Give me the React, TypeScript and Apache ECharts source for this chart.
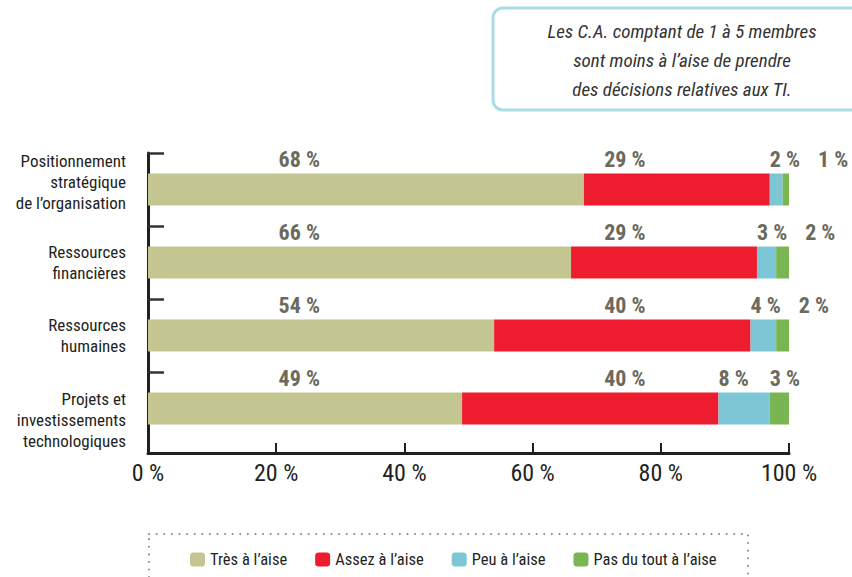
import React, { useEffect, useRef } from 'react';
import * as echarts from 'echarts';

const categories = [
  'Positionnement\nstratégique\nde l’organisation',
  'Ressources\nfinancières',
  'Ressources\nhumaines',
  'Projets et\ninvestissements\ntechnologiques',
];
const seriesNames = ['Très à l’aise', 'Assez à l’aise', 'Peu à l’aise', 'Pas du tout à l’aise'];
const tres = [68, 66, 54, 49];
const assez = [29, 29, 40, 40];
const peu = [2, 3, 4, 8];
const pasDuTout = [1, 2, 2, 3];
const xMin = 0;
const xMax = 100;
const xInterval = 20;
const calloutLines = [
  'Les C.A. comptant de 1 à 5 membres',
  'sont moins à l’aise de prendre',
  'des décisions relatives aux TI.',
];

const colors = ['#c3c690', '#ed1c2e', '#7cc6d6', '#7ab553'];
const FONT = '"Roboto Condensed", "Liberation Sans", sans-serif';
const DARK = '#231f20';
const LABEL_GREY = '#6b6a5c';

// layout
const GRID_LEFT = 148;
const GRID_RIGHT = 63;
const GRID_TOP = 153;
const BAND = 73;
const AXIS_Y = 453;
const BAR_AREA_H = BAND * categories.length;
// vertical nudge (px, positive = down) of each category label block
const CAT_LABEL_SHIFT = [-8, 0, 0, 11];

function measure(text: string, font: string): number {
  const c = document.createElement('canvas').getContext('2d');
  if (!c) return text.length * 9;
  c.font = font;
  return c.measureText(text).width;
}

export default function App() {
  const ref = useRef<HTMLDivElement>(null);
  useEffect(() => {
    if (!ref.current) return;
    const chart = echarts.init(ref.current, null, { renderer: 'svg' });
    const all = [tres, assez, peu, pasDuTout];
    const labelFontSize = 22;
    const labelFont = `bold ${labelFontSize}px ${FONT}`;
    const COL1 = 23.6;
    const COL2 = 74.4;

    const rich: any = {
      t: { fontSize: 17, lineHeight: 21, color: DARK, fontFamily: FONT, align: 'right' },
    };
    CAT_LABEL_SHIFT.forEach((s, i) => {
      if (s !== 0) rich['s' + i] = { fontSize: 2, lineHeight: Math.abs(s) * 2, align: 'right' };
    });
    const catFormatter = (value: string, index: number) => {
      const body = value
        .split('\n')
        .map((l) => `{t|${l}}`)
        .join('\n');
      const s = CAT_LABEL_SHIFT[index] || 0;
      if (s < 0) return `${body}\n{s${index}| }`;
      if (s > 0) return `{s${index}| }\n${body}`;
      return body;
    };

    const option: any = {
      animation: false,
      backgroundColor: '#fff',
      textStyle: { fontFamily: FONT },
      grid: [
        {
          left: GRID_LEFT,
          right: GRID_RIGHT,
          top: GRID_TOP,
          height: BAR_AREA_H,
          containLabel: false,
          outerBoundsMode: 'none',
        },
        {
          left: GRID_LEFT,
          right: GRID_RIGHT,
          top: GRID_TOP,
          height: AXIS_Y - GRID_TOP,
          containLabel: false,
          outerBoundsMode: 'none',
        },
      ],
      xAxis: [
        { gridIndex: 0, type: 'value', min: xMin, max: xMax, show: false },
        {
          gridIndex: 1,
          type: 'value',
          min: xMin,
          max: xMax,
          interval: xInterval,
          axisLine: { show: true, onZero: false, lineStyle: { color: DARK, width: 3 } },
          axisTick: { show: true, inside: true, length: 10, lineStyle: { color: DARK, width: 2 } },
          axisLabel: {
            formatter: (v: number) => `${v} %`,
            fontSize: 24,
            color: DARK,
            margin: 8,
            fontFamily: FONT,
          },
          splitLine: { show: false },
        },
      ],
      yAxis: [
        {
          gridIndex: 0,
          type: 'category',
          inverse: true,
          data: categories,
          axisLine: { show: false },
          axisTick: { show: false },
          axisLabel: {
            fontSize: 17,
            lineHeight: 21,
            color: DARK,
            margin: 22,
            fontFamily: FONT,
            align: 'right',
            formatter: catFormatter,
            rich,
          },
        },
        {
          gridIndex: 1,
          type: 'value',
          inverse: true,
          min: 0,
          max: (AXIS_Y - GRID_TOP) / BAND,
          axisLine: { show: true, onZero: false, lineStyle: { color: DARK, width: 3 } },
          axisTick: {
            show: true,
            inside: true,
            length: 16,
            customValues: categories.map((_, i) => i),
            lineStyle: { color: '#333', width: 2.5 },
          },
          axisLabel: { show: false },
          splitLine: { show: false },
        },
      ],
      legend: {
        data: seriesNames,
        left: 185,
        top: 546,
        itemWidth: 15,
        itemHeight: 14,
        itemGap: 28,
        icon: 'roundRect',
        textStyle: { fontSize: 16.5, color: DARK, fontFamily: FONT },
        selectedMode: false,
      },
      series: [
        ...seriesNames.map((name, k) => ({
          name,
          type: 'bar',
          stack: 'total',
          xAxisIndex: 0,
          yAxisIndex: 0,
          barWidth: 32,
          itemStyle: { color: colors[k] },
          data: all[k],
          silent: true,
        })),
        {
          type: 'custom',
          xAxisIndex: 0,
          yAxisIndex: 0,
          silent: true,
          z: 10,
          data: categories.map((_, i) => [0, i]),
          renderItem: (params: any, api: any) => {
            const i = params.dataIndex;
            const row = api.value(1);
            const cy = api.coord([0, row])[1];
            const y = cy - 30;
            const texts = all.map((arr) => `${arr[i]} %`);
            const x1 = api.coord([COL1, row])[0];
            const x2 = api.coord([COL2, row])[0];
            const x3 = api.coord([tres[i] + assez[i], row])[0];
            const w3 = measure(texts[2], labelFont);
            const x4 = Math.max(api.coord([tres[i] + assez[i] + peu[i], row])[0], x3 + w3 + 18);
            const mk = (text: string, x: number, align: string) => ({
              type: 'text',
              x,
              y,
              style: {
                text,
                fill: LABEL_GREY,
                fontSize: labelFontSize,
                fontWeight: 'bold',
                fontFamily: FONT,
                align,
                verticalAlign: 'middle',
              },
            });
            return {
              type: 'group',
              children: [
                mk(texts[0], x1, 'center'),
                mk(texts[1], x2, 'center'),
                mk(texts[2], x3, 'left'),
                mk(texts[3], x4, 'left'),
              ],
            };
          },
        },
      ],
      graphic: [
        {
          type: 'rect',
          shape: { x: 493, y: 8, width: 420, height: 102, r: 10 },
          style: { fill: '#fff', stroke: '#a9dde6', lineWidth: 3 },
          z: 1,
        },
        ...calloutLines.map((t, k) => ({
          type: 'text',
          x: 682,
          y: 31 + k * 29,
          style: {
            text: t,
            fill: '#333',
            fontSize: 19,
            fontStyle: 'italic',
            fontFamily: FONT,
            align: 'center',
            verticalAlign: 'middle',
          },
          z: 2,
        })),
        {
          type: 'rect',
          shape: { x: 149, y: 534, width: 599, height: 80 },
          style: {
            fill: 'none',
            stroke: '#8c8c8c',
            lineWidth: 2,
            lineDash: [0.1, 7.5],
            lineCap: 'round',
          },
          z: 0,
        },
      ],
    };
    chart.setOption(option);
    return () => chart.dispose();
  }, []);
  return (
    <div
      ref={ref}
      style={{ position: 'fixed', left: 0, top: 0, width: 852, height: 577, background: '#fff' }}
    />
  );
}
